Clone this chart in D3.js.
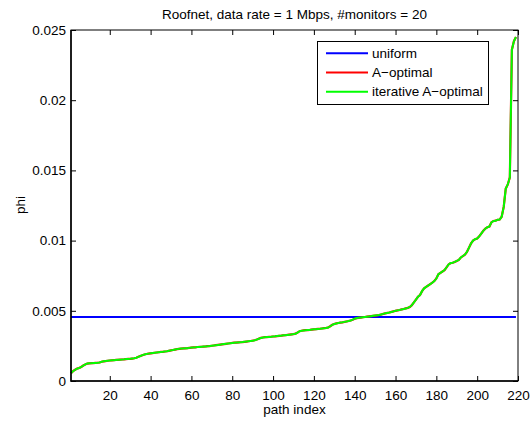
<!DOCTYPE html>
<html lang="en">
<head>
<meta charset="utf-8">
<title>Roofnet phi</title>
<style>
  body { margin: 0; background: #fff; }
  svg text { font-family: "Liberation Sans", Arial, Helvetica, sans-serif; fill: #000; }
  .axis text { font-size: 13.5px; }
  .axis line { stroke: #000; }
</style>
<script src="https://cdn.jsdelivr.net/npm/d3@7"></script>
</head>
<body>
<svg width="530" height="423"></svg>
<script>
// sorted phi values per path, 219 paths
var phiIterative = [
  0.00055, 0.00070, 0.00080, 0.00088, 0.00092, 0.00100, 0.00110, 0.00118, 0.00124, 0.00126,
  0.00127, 0.00128, 0.00129, 0.00130, 0.00132, 0.00137, 0.00140, 0.00142, 0.00144, 0.00146,
  0.00147, 0.00148, 0.00150, 0.00151, 0.00152, 0.00153, 0.00154, 0.00156, 0.00157, 0.00158,
  0.00160, 0.00162, 0.00166, 0.00172, 0.00178, 0.00184, 0.00189, 0.00192, 0.00195, 0.00197,
  0.00199, 0.00201, 0.00203, 0.00205, 0.00207, 0.00208, 0.00210, 0.00212, 0.00215, 0.00218,
  0.00221, 0.00224, 0.00227, 0.00229, 0.00231, 0.00232, 0.00233, 0.00234, 0.00236, 0.00238,
  0.00239, 0.00240, 0.00242, 0.00243, 0.00244, 0.00245, 0.00246, 0.00248, 0.00249, 0.00251,
  0.00253, 0.00255, 0.00257, 0.00259, 0.00261, 0.00263, 0.00265, 0.00267, 0.00269, 0.00271,
  0.00273, 0.00274, 0.00275, 0.00276, 0.00277, 0.00279, 0.00281, 0.00283, 0.00285, 0.00287,
  0.00290, 0.00295, 0.00301, 0.00307, 0.00310, 0.00312, 0.00313, 0.00314, 0.00315, 0.00317,
  0.00318, 0.00320, 0.00322, 0.00323, 0.00325, 0.00326, 0.00328, 0.00330, 0.00332, 0.00334,
  0.00337, 0.00345, 0.00355, 0.00358, 0.00360, 0.00362, 0.00363, 0.00364, 0.00366, 0.00368,
  0.00369, 0.00371, 0.00372, 0.00374, 0.00376, 0.00378, 0.00381, 0.00390, 0.00400, 0.00406,
  0.00410, 0.00413, 0.00416, 0.00418, 0.00421, 0.00424, 0.00427, 0.00431, 0.00437, 0.00444,
  0.00448, 0.00450, 0.00452, 0.00454, 0.00456, 0.00458, 0.00460, 0.00462, 0.00464, 0.00466,
  0.00468, 0.00470, 0.00474, 0.00478, 0.00482, 0.00485, 0.00488, 0.00492, 0.00496, 0.00500,
  0.00503, 0.00506, 0.00510, 0.00513, 0.00517, 0.00521, 0.00527, 0.00540, 0.00560, 0.00580,
  0.00600, 0.00612, 0.00640, 0.00660, 0.00670, 0.00680, 0.00690, 0.00700, 0.00712, 0.00730,
  0.00760, 0.00770, 0.00780, 0.00790, 0.00810, 0.00830, 0.00840, 0.00842, 0.00848, 0.00855,
  0.00862, 0.00880, 0.00890, 0.00900, 0.00920, 0.00950, 0.00980, 0.01000, 0.01010, 0.01015,
  0.01030, 0.01050, 0.01070, 0.01085, 0.01095, 0.01100, 0.01130, 0.01140, 0.01142, 0.01148,
  0.01150, 0.01170, 0.01240, 0.01370, 0.01400, 0.01450, 0.02360, 0.02420, 0.02450
];
// A-optimal sits under the iterative curve
var phiAOptimal = phiIterative.slice();
var nPaths = phiIterative.length;
var uniformValue = 1 / nPaths;

var xTicks = [20, 40, 60, 80, 100, 120, 140, 160, 180, 200, 220];
var yTicks = [0, 0.005, 0.01, 0.015, 0.02, 0.025];
var yTickLabels = ["0", "0.005", "0.01", "0.015", "0.02", "0.025"];

var legendNames = ["uniform", "A\u2212optimal", "iterative A\u2212optimal"];
var legendColors = ["#0000ff", "#ff0000", "#00ff00"];

var svg = d3.select("svg");
var plotLeft = 71, plotRight = 518, plotTop = 30, plotBottom = 381;
var fontSize = "13.5px";

var x = d3.scaleLinear().domain([1, 220]).range([plotLeft, plotRight]);
var y = d3.scaleLinear().domain([0, 0.025]).range([plotBottom, plotTop]);

// title
svg.append("text")
   .attr("x", (plotLeft + plotRight) / 2)
   .attr("y", 19)
   .attr("text-anchor", "middle")
   .attr("font-size", fontSize)
   .text("Roofnet, data rate = 1 Mbps, #monitors = 20");

// axes (ticks point inward like matlab)
var gx = svg.append("g").attr("class", "axis")
   .attr("transform", "translate(0," + plotBottom + ")")
   .call(d3.axisBottom(x).tickValues(xTicks).tickSizeInner(-5).tickSizeOuter(0).tickPadding(9));
gx.select(".domain").remove();

var gxTop = svg.append("g").attr("class", "axis")
   .attr("transform", "translate(0," + plotTop + ")")
   .call(d3.axisTop(x).tickValues(xTicks).tickSizeInner(-5).tickSizeOuter(0).tickFormat(""));
gxTop.select(".domain").remove();

var gy = svg.append("g").attr("class", "axis")
   .attr("transform", "translate(" + plotLeft + ",0)")
   .call(d3.axisLeft(y).tickValues(yTicks).tickSizeInner(-5).tickSizeOuter(0).tickPadding(5)
      .tickFormat(function(d, i) { return yTickLabels[i]; }));
gy.select(".domain").remove();

var gyRight = svg.append("g").attr("class", "axis")
   .attr("transform", "translate(" + plotRight + ",0)")
   .call(d3.axisRight(y).tickValues(yTicks).tickSizeInner(-5).tickSizeOuter(0).tickFormat(""));
gyRight.select(".domain").remove();

svg.selectAll(".axis").attr("font-family", null).attr("font-size", null);

// axis labels
svg.append("text")
   .attr("x", (plotLeft + plotRight) / 2)
   .attr("y", 414)
   .attr("text-anchor", "middle")
   .attr("font-size", fontSize)
   .text("path index");

svg.append("text")
   .attr("transform", "translate(25," + 205 + ") rotate(-90)")
   .attr("text-anchor", "middle")
   .attr("font-size", fontSize)
   .text("phi");

// series
var line = d3.line()
   .x(function(d, i) { return x(i + 1); })
   .y(function(d) { return y(d); });

svg.append("line")
   .attr("x1", x(1)).attr("x2", x(nPaths))
   .attr("y1", y(uniformValue)).attr("y2", y(uniformValue))
   .attr("stroke", legendColors[0])
   .attr("stroke-width", 2);

svg.append("path")
   .datum(phiAOptimal)
   .attr("d", line)
   .attr("fill", "none")
   .attr("stroke", legendColors[1])
   .attr("stroke-width", 2.2);

svg.append("path")
   .datum(phiIterative)
   .attr("d", line)
   .attr("fill", "none")
   .attr("stroke", legendColors[2])
   .attr("stroke-width", 2);

// plot box
svg.append("rect")
   .attr("x", plotLeft).attr("y", plotTop)
   .attr("width", plotRight - plotLeft).attr("height", plotBottom - plotTop)
   .attr("fill", "none")
   .attr("stroke", "#000")
   .attr("stroke-width", 1);
svg.append("path")
   .attr("d", "M" + plotLeft + "," + plotTop + "V" + plotBottom + "H" + plotRight)
   .attr("fill", "none")
   .attr("stroke", "#000")
   .attr("stroke-width", 1.5);

// legend
var legend = svg.append("g");
legend.append("rect")
   .attr("x", 317.5).attr("y", 41.5)
   .attr("width", 171).attr("height", 63)
   .attr("fill", "#fff")
   .attr("stroke", "#000")
   .attr("stroke-width", 1);

var items = legend.selectAll(".item")
   .data(legendNames)
   .enter()
   .append("g")
   .attr("class", "item")
   .attr("transform", function(d, i) { return "translate(0," + (53.3 + i * 19.2) + ")"; });

items.append("line")
   .attr("x1", 326).attr("x2", 368)
   .attr("stroke", function(d, i) { return legendColors[i]; })
   .attr("stroke-width", 2);

items.append("text")
   .attr("x", 372)
   .attr("dy", "0.35em")
   .attr("font-size", fontSize)
   .text(function(d) { return d; });
</script>
</body>
</html>
